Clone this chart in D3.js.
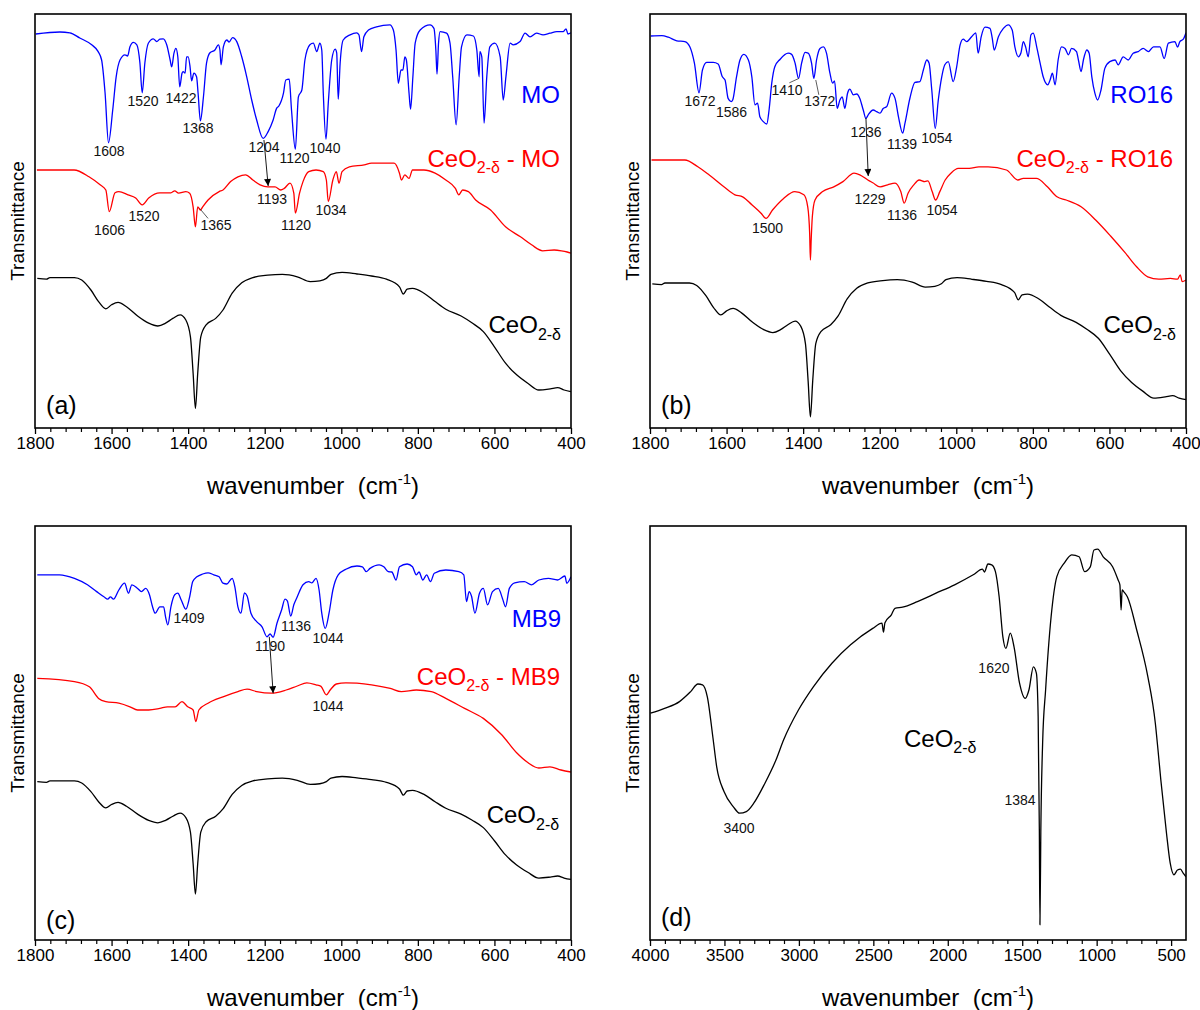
<!DOCTYPE html>
<html><head><meta charset="utf-8">
<script src="https://cdn.jsdelivr.net/npm/d3@7"></script>
<style>
body{margin:0;background:#fff}
svg{display:block}
text{font-family:"Liberation Sans",Arial,Helvetica,sans-serif}
</style>
</head><body>
<svg id="chart" width="1200" height="1010"></svg>
<script>
// ---------------- DATA (wavenumber cm-1, transmittance a.u.) ----------------
const moSpectrum = [[1798,98.5],[1735,99],[1709,98.8],[1683,97.5],[1652,95.8],[1635,94.1],[1626,92],[1617,83.8],[1608,71.3],[1597,79.5],[1588,87.8],[1578,92],[1565,93.3],[1558,93],[1552,95.3],[1543,96.4],[1534,95.8],[1526,91.3],[1520,83.8],[1513,91.3],[1504,96.2],[1491,97.3],[1482,96.6],[1474,97.2],[1465,97.3],[1456,95.8],[1447,92],[1443,90.3],[1437,93.7],[1432,94.9],[1427,92.8],[1422,85.3],[1416,88.7],[1413,89.1],[1408,88.7],[1404,92.8],[1400,92.8],[1395,90.3],[1391,86.8],[1385,88.7],[1378,87.8],[1374,83.7],[1368,76.8],[1360,82.8],[1352,91.2],[1343,93.8],[1330,94.5],[1321,95.8],[1317,94.5],[1314,90.8],[1308,95.3],[1299,97],[1293,96.5],[1284,97.6],[1273,96.6],[1260,92.8],[1247,87.8],[1234,82],[1221,77],[1204,72.4],[1191,74.1],[1178,77],[1169,79.9],[1163,80.5],[1151,83.7],[1145,87],[1136,87.2],[1130,79.5],[1120,69.7],[1112,82.8],[1103,84.5],[1095,92],[1082,95.8],[1073,96.2],[1064,94.1],[1056,96.2],[1051,94.5],[1047,83.7],[1040,72.2],[1034,81.2],[1025,92],[1016,94.7],[1012,93.8],[1008,82.2],[1003,91.2],[995,97],[977,98.3],[960,98.8],[954,98.3],[947,94.1],[941,97.8],[929,99.5],[908,100.3],[873,100.8],[864,99.5],[857,94.5],[851,86.2],[844,89.5],[839,89.5],[834,92.8],[830,92],[823,83.7],[819,79.7],[813,87.8],[807,96.2],[794,99.5],[768,100.8],[758,99.9],[753,94.5],[750,88.5],[746,96.2],[742,99.1],[725,98.7],[716,96.2],[709,87.8],[700,75.8],[692,87.8],[686,95.3],[672,98.3],[655,98],[646,94.5],[640,87.8],[638,94.1],[633,92.8],[627,76.2],[620,87.8],[612,95.3],[599,96.2],[585,92.8],[577,82],[570,87.8],[559,96.2],[551,95.8],[533,96.6],[520,98.7],[507,97.8],[490,98.7],[473,98.3],[455,98.7],[437,99.1],[420,99.1],[413,99.8],[408,98.5],[400,98.8]];

const moComplex = [[1795,64.5],[1698,64.5],[1659,62.8],[1630,60.8],[1615,59.5],[1606,54.1],[1591,58.8],[1581,59.1],[1557,58.3],[1537,57.5],[1520,55.8],[1503,57.5],[1474,58.8],[1445,58.8],[1435,59.3],[1425,58.7],[1406,59.1],[1396,58.7],[1387,55.3],[1381,50.3],[1375,55.3],[1368,54.5],[1362,55.3],[1348,57],[1319,59.1],[1309,59.5],[1289,61.6],[1270,62.8],[1250,63.3],[1231,62],[1212,60.8],[1192,60.3],[1173,60.3],[1158,59.5],[1149,59.9],[1134,61.2],[1124,58.7],[1120,53.7],[1109,58.7],[1100,61.6],[1085,64.1],[1066,64.5],[1047,64.1],[1039,62],[1034,56.6],[1022,62],[1013,64.1],[1006,61.2],[998,64.1],[979,65.3],[940,65.8],[921,66.2],[862,66.2],[848,63.7],[843,62],[834,63.3],[823,62.4],[814,64.5],[784,64.5],[755,63.7],[727,62],[702,59.9],[693,58.3],[683,59.5],[668,59.1],[649,57],[610,54.5],[571,50.3],[532,47.8],[503,45.8],[474,44.3],[444,44.5],[425,44.3],[410,44],[400,43.7]];

const ceo2Spectrum = [[1794,37.4],[1770,37.2],[1761,37.6],[1697,37.6],[1678,37],[1654,34.5],[1634,31.6],[1615,29.8],[1600,30.8],[1583,31.4],[1561,30.3],[1532,28],[1503,26.2],[1479,25.5],[1459,26.2],[1440,27.4],[1421,28.3],[1406,27],[1394,22.8],[1387,13.7],[1381,4.9],[1375,13.7],[1367,22.8],[1353,25.8],[1328,27.4],[1309,29.5],[1285,33.7],[1260,36.3],[1231,37.6],[1192,38.2],[1154,38.4],[1115,37.8],[1081,36.6],[1056,36.8],[1039,37.4],[1027,38.4],[998,38.9],[959,38.5],[921,38],[882,37.2],[848,35.3],[838,33.5],[828,34.7],[814,34.9],[784,33.7],[755,31.6],[727,29.7],[687,28],[659,26.3],[629,24.1],[600,20.3],[571,16.2],[542,13.3],[513,11.2],[484,9.5],[454,9.8],[435,10.1],[418,9.5],[400,9.1]];

const ro16Spectrum = [[1798,98],[1769,98.1],[1752,97.7],[1730,96.8],[1709,96.6],[1696,95.3],[1684,91.2],[1672,83.8],[1663,89.5],[1652,91.4],[1635,91.4],[1622,91],[1611,87.8],[1604,87],[1596,82.4],[1588,81.6],[1584,82],[1574,87.8],[1565,92],[1555,93.4],[1543,92],[1534,87.8],[1526,80.8],[1519,81.2],[1513,77.8],[1504,76.6],[1495,76],[1489,79.5],[1482,86.2],[1474,90.3],[1460,92.2],[1439,93.7],[1430,93.4],[1421,91.2],[1412,87.4],[1404,91.2],[1395,93.9],[1387,93.7],[1378,91.2],[1372,87.4],[1365,92],[1356,94.9],[1347,95.3],[1339,93.7],[1330,88.7],[1323,86.2],[1318,86.8],[1311,79.9],[1304,82],[1298,82.8],[1291,79.9],[1284,83.7],[1278,84.7],[1269,83.3],[1260,83.5],[1252,82.4],[1243,79.5],[1236,77.4],[1230,78.3],[1217,79.5],[1208,79.1],[1199,78.7],[1191,79.9],[1182,80.3],[1169,83.7],[1160,82.4],[1151,77.8],[1140,73.7],[1134,76.2],[1121,82.5],[1108,86.4],[1095,86.6],[1086,89.5],[1077,92],[1071,91.2],[1064,84.5],[1055,74.9],[1047,82],[1038,87.8],[1030,90.8],[1021,91.6],[1008,86.6],[999,90.3],[990,95.8],[982,97.2],[973,96.6],[960,97.8],[949,98.8],[943,93.7],[935,97.8],[925,100.2],[912,99.9],[906,97.4],[901,94.5],[890,97.8],[877,99.9],[864,100.8],[854,99.5],[847,95.3],[838,92.8],[831,93.8],[825,96.6],[819,95.3],[812,92.8],[805,98.3],[799,98.7],[790,95.3],[781,91.2],[773,87.8],[761,85.8],[755,87],[749,88.7],[742,85.8],[734,92],[725,95.3],[716,94.9],[707,93.3],[699,94.9],[686,94.1],[681,92],[674,89.1],[668,92],[659,94.5],[653,93.7],[646,87.8],[638,83.7],[631,82],[622,84.5],[612,89.9],[599,91.6],[585,92],[577,90.8],[564,92.8],[551,92],[538,93.7],[525,94.1],[512,94.9],[498,94.1],[485,95.3],[468,95.3],[457,92.4],[446,96.2],[429,96.6],[422,95.2],[416,96.6],[407,97.2],[400,98.8]];

const ro16Complex = [[1796,67],[1709,67],[1675,65.3],[1646,63.3],[1607,60.3],[1578,58.3],[1558,57.8],[1534,55.8],[1510,53.7],[1497,52.4],[1480,54.5],[1451,57.4],[1422,59.1],[1398,58.3],[1388,55.3],[1383,48.7],[1381,42],[1379,47],[1376,52.8],[1369,57],[1349,59.1],[1320,60.3],[1296,61.6],[1267,63.7],[1252,63.3],[1231,62],[1218,61.3],[1199,60.3],[1179,60.8],[1160,61.2],[1145,59.1],[1136,56.2],[1126,58.7],[1111,60.8],[1097,62],[1082,61.6],[1074,61.8],[1063,59.1],[1054,57],[1043,59.1],[1029,62],[1014,63.7],[995,64.9],[966,64.9],[941,65.3],[917,65.3],[869,64.5],[839,62],[825,62.4],[791,62.4],[762,60.3],[737,57.8],[713,57],[674,55.3],[636,52],[597,48],[558,43.7],[529,40.3],[500,37.8],[471,37.2],[441,37.4],[422,37.2],[415,38.3],[410,36.6],[400,37]];

const mb9Spectrum = [[1794,91.3],[1736,91.3],[1697,90.4],[1663,88.8],[1639,87.1],[1620,85.8],[1610,85.2],[1603,85.8],[1595,85.2],[1581,87.5],[1566,89.2],[1556,86.7],[1547,88.8],[1532,87.9],[1522,87.1],[1511,87.9],[1501,86.3],[1493,83.3],[1486,81.7],[1474,83.3],[1464,83.3],[1459,80.8],[1453,78.8],[1445,83.3],[1435,86.3],[1427,86.7],[1418,85],[1406,82.7],[1396,85.8],[1388,89.6],[1377,90.8],[1362,91.5],[1348,91.8],[1333,91.3],[1319,90.8],[1309,89.2],[1299,89],[1285,90.4],[1278,88.3],[1270,83.3],[1262,81.7],[1253,86.8],[1246,86],[1236,81.7],[1221,79.6],[1207,78.3],[1194,75.8],[1186,76.5],[1178,75.7],[1168,79.2],[1156,82.5],[1147,85.2],[1141,84.8],[1132,81],[1124,83.8],[1115,85.8],[1100,88.8],[1085,89.6],[1077,89.3],[1066,90.4],[1058,87.5],[1051,81.7],[1042,77.9],[1032,81.7],[1022,87.5],[1008,91.3],[988,92.7],[959,93.5],[945,93.3],[935,92.1],[925,92.9],[901,93.8],[889,93.3],[877,92.1],[868,92],[857,90],[848,93.3],[828,94],[814,93.3],[804,91.3],[797,92],[787,90],[777,91.3],[767,89.6],[757,91.7],[727,92.5],[693,92.1],[680,91.3],[673,84.6],[666,87.1],[660,86],[651,81.7],[639,86.7],[629,87.9],[618,83.8],[605,87.1],[590,87.9],[579,85.4],[571,83.3],[561,87.9],[547,89.3],[522,89.6],[503,88.8],[484,90],[459,90.4],[435,90],[416,91],[411,89.2],[400,90.8]];

const mb9Complex = [[1794,65.4],[1697,64.6],[1658,63.3],[1634,60.4],[1615,59.6],[1581,59.2],[1552,58.3],[1532,57.5],[1503,57.5],[1474,57.9],[1454,58.3],[1434,58.3],[1416,59.6],[1401,58.3],[1387,57.5],[1380,54.6],[1372,57.5],[1348,59.2],[1309,60.8],[1270,62.1],[1246,62.7],[1221,62.1],[1183,61.7],[1144,62.5],[1115,63.5],[1090,64.3],[1066,63.8],[1053,63.4],[1039,61.3],[1029,62.5],[1013,64],[988,64.3],[959,64.2],[921,63.8],[872,62.9],[843,62.1],[804,62.5],[765,62.1],[727,60.4],[678,57.9],[629,55.4],[581,51.3],[542,46.8],[512,44.3],[484,43],[455,43.3],[426,42.5],[400,42]];

const ceo2FullSpectrum = [[3997,56.7],[3902,57.9],[3802,59.6],[3727,62.1],[3678,64],[3647,63.8],[3615,60.8],[3577,50.5],[3552,43.3],[3503,37.1],[3440,33.3],[3398,31.7],[3353,32.1],[3303,34.2],[3228,39.2],[3154,45],[3103,50],[3003,57.5],[2903,63.3],[2778,69.2],[2653,73.8],[2504,77.9],[2442,79.2],[2432,77],[2422,79.3],[2379,81.3],[2355,82.9],[2304,83.2],[2204,84.6],[2079,86.7],[1954,88.8],[1829,91.3],[1767,92.7],[1754,92],[1730,94],[1705,93.8],[1680,92.1],[1655,85.8],[1630,75.8],[1610,72.9],[1580,76.7],[1555,73.3],[1518,64.2],[1480,60.4],[1455,62.5],[1425,68.3],[1405,66.7],[1393,55.8],[1385,27.5],[1381,3.8],[1375,27.5],[1363,49.2],[1343,62.5],[1306,80.8],[1268,90.8],[1218,94.2],[1168,96.3],[1118,95.8],[1081,92.1],[1043,93.3],[1018,97.5],[993,97.7],[956,95.8],[893,93.3],[856,90],[844,88.8],[836,82.5],[829,87.5],[819,87.1],[794,85.8],[731,77.5],[656,65.8],[606,54.2],[588,47.5],[569,40],[531,26.7],[506,19.2],[481,16.3],[457,17.5],[437,17.7],[419,16.7],[400,15.8]];

// tick labels
const ticksMid = [1800,1600,1400,1200,1000,800,600,400];
const ticksFull = [4000,3500,3000,2500,2000,1500,1000,500];

// peak labels [text, wavenumber, transmittance]
const peaksA = [["1608",1606.7,69.3],["1520",1517.9,81.8],["1422",1418.6,82.5],["1368",1374.2,75],["1204",1201.9,70.3],["1120",1122.2,67.5],["1040",1042.5,70],["1606",1605.4,49.5],["1520",1515.3,53],["1365",1327.2,50.8],["1193",1181,57.3],["1120",1118.3,50.8],["1034",1026.8,54.5]];
const peaksB = [["1672",1669.4,81.8],["1586",1587.1,79],["1410",1442.2,84.5],["1372",1356.7,81.8],["1236",1235.8,74],["1139",1141.8,71],["1054",1051.1,72.5],["1500",1493,50],["1229",1225.4,57.3],["1136",1141.8,53.3],["1054",1037.3,54.5]];
const peaksC = [["1409",1397.8,80.5],["1136",1118.3,78.4],["1044",1034.7,75.5],["1190",1186.2,73.5],["1044",1034.7,58.5]];
const peaksD = [["3400",3402,28],["1620",1690,68],["1384",1515,35]];

// ---------------- LAYOUT ----------------
const BLUE="#0000ff", RED="#ff0000", BLACK="#000000";
const svg = d3.select("#chart");
const defs = svg.append("defs");
defs.append("marker").attr("id","arrowhead").attr("viewBox","0 0 10 10")
  .attr("refX",10).attr("refY",5).attr("markerWidth",8).attr("markerHeight",7)
  .attr("markerUnits","userSpaceOnUse").attr("orient","auto")
  .append("path").attr("d","M0,0 L10,5 L0,10 Z").attr("fill","#000");

const panels = [
  {key:"a", left:35, right:571, top:14, bottom:428, domain:[1800,400], majors:ticksMid, minorStep:40,
   series:[{data:moSpectrum,color:BLUE},{data:moComplex,color:RED},{data:ceo2Spectrum,color:BLACK,gain:1,offset:0}],
   peaks:peaksA, leaders:[[1370,54.9,1348,52.4]], arrows:[[1202,72,1191,60.5]],
   names:[{t:"MO",color:BLUE,wn:428.7,v:83.3,anchor:"end"},{ceo:true,suffix:"MO",color:RED,wn:428.7,v:67.5,anchor:"end"},{ceo:true,color:BLACK,wn:426,v:25.8,anchor:"end"}],
   letter:["(a)",1771,5.75]},
  {key:"b", left:650, right:1186, top:14, bottom:428, domain:[1800,400], majors:ticksMid, minorStep:40,
   series:[{data:ro16Spectrum,color:BLUE},{data:ro16Complex,color:RED},{data:ceo2Spectrum,color:BLACK,gain:1.024,offset:-2.25}],
   peaks:peaksB, leaders:[[1436,86.3,1411,87.4],[1367,87,1359,83.3]], arrows:[[1236,77.5,1230,63]],
   names:[{t:"RO16",color:BLUE,wn:433.9,v:83.3,anchor:"end"},{ceo:true,suffix:"RO16",color:RED,wn:433.9,v:67.5,anchor:"end"},{ceo:true,color:BLACK,wn:426,v:25.8,anchor:"end"}],
   letter:["(b)",1771,5.75]},
  {key:"c", left:35, right:571, top:526, bottom:940, domain:[1800,400], majors:ticksMid, minorStep:40,
   series:[{data:mb9Spectrum,color:BLUE},{data:mb9Complex,color:RED},{data:ceo2Spectrum,color:BLACK,gain:0.864,offset:7.27}],
   peaks:peaksC, leaders:[], arrows:[[1188,75.8,1178,61.7]],
   names:[{t:"MB9",color:BLUE,wn:426,v:80.3,anchor:"end"},{ceo:true,suffix:"MB9",color:RED,wn:428.7,v:66,anchor:"end"},{ceo:true,color:BLACK,wn:431,v:31.3,anchor:"end"}],
   letter:["(c)",1771,5]},
  {key:"d", left:650, right:1186, top:526, bottom:940, domain:[4000,400], majors:ticksFull, minorStep:100,
   series:[{data:ceo2FullSpectrum,color:BLACK}],
   peaks:peaksD, leaders:[], arrows:[],
   names:[{ceo:true,color:BLACK,wn:2294,v:50.5,anchor:"start"}],
   letter:["(d)",3926,5.75]}
];

function ceoLabel(g, x, y, color, suffix, anchor){
  const size=24;
  const t=g.append("text").attr("x",x).attr("y",y).attr("fill",color)
    .attr("font-size",size).attr("text-anchor",anchor);
  t.append("tspan").text("CeO");
  t.append("tspan").attr("font-size",16).attr("dy",6.5).text("2-δ");
  if(suffix) t.append("tspan").attr("dy",-6.5).text("\u00A0-\u00A0"+suffix);
}

panels.forEach(p=>{
  const g = svg.append("g");
  const x = d3.scaleLinear().domain(p.domain).range([p.left,p.right]);
  const y = d3.scaleLinear().domain([0,103.5]).range([p.bottom,p.top]);
  const clipId = "clip-"+p.key;
  defs.append("clipPath").attr("id",clipId).append("rect")
    .attr("x",p.left).attr("y",p.top).attr("width",p.right-p.left).attr("height",p.bottom-p.top);
  const line = d3.line().x(d=>x(d[0])).y(d=>y(d[1])).curve(d3.curveMonotoneX);

  p.series.forEach(s=>{
    const gain = s.gain===undefined?1:s.gain, off = s.offset||0;
    const data = s.data.map(d=>[d[0], d[1]*gain+off]);
    g.append("path").datum(data).attr("d",line).attr("fill","none")
      .attr("stroke",s.color).attr("stroke-width",1.3).attr("stroke-linejoin","round")
      .attr("clip-path",`url(#${clipId})`);
  });

  // minor ticks
  const lo = Math.min(...p.domain), hi = Math.max(...p.domain);
  const minors = d3.range(lo, hi+1, p.minorStep).filter(v=>!p.majors.includes(v) && v>lo && v<hi);
  const minAx = g.append("g").attr("transform",`translate(0,${p.bottom})`)
    .call(d3.axisBottom(x).tickValues(minors).tickSize(4).tickFormat(""));
  minAx.select(".domain").remove();
  minAx.selectAll("line").attr("stroke","#000").attr("stroke-width",1.2);

  const majAx = g.append("g").attr("transform",`translate(0,${p.bottom})`)
    .call(d3.axisBottom(x).tickValues(p.majors).tickSize(6).tickPadding(3).tickFormat(d3.format("d")));
  majAx.select(".domain").remove();
  majAx.selectAll("line").attr("stroke","#000").attr("stroke-width",1.3);
  majAx.selectAll("text").attr("font-size",17).attr("fill","#000")
    .attr("font-family",'"Liberation Sans",Arial,sans-serif');

  // frame
  g.append("rect").attr("x",p.left).attr("y",p.top).attr("width",p.right-p.left).attr("height",p.bottom-p.top)
    .attr("fill","none").attr("stroke","#000").attr("stroke-width",1.6);

  // axis titles
  const xt = g.append("text").attr("x",(p.left+p.right)/2+10).attr("y",p.bottom+66)
    .attr("text-anchor","middle").attr("font-size",24).attr("fill","#000");
  xt.append("tspan").text("wavenumber\u00A0\u00A0(cm");
  xt.append("tspan").attr("font-size",15).attr("dy",-10).text("-1");
  xt.append("tspan").attr("dy",10).text(")");

  g.append("text").attr("transform",`translate(${p.left-11},${(p.top+p.bottom)/2}) rotate(-90)`)
    .attr("text-anchor","middle").attr("font-size",19).attr("fill","#000").text("Transmittance");

  // leader lines
  p.leaders.forEach(l=>{
    g.append("line").attr("x1",x(l[0])).attr("y1",y(l[1])).attr("x2",x(l[2])).attr("y2",y(l[3]))
      .attr("stroke","#333").attr("stroke-width",0.8);
  });
  // arrows
  p.arrows.forEach(a=>{
    g.append("line").attr("x1",x(a[0])).attr("y1",y(a[1])).attr("x2",x(a[2])).attr("y2",y(a[3]))
      .attr("stroke","#000").attr("stroke-width",0.9).attr("marker-end","url(#arrowhead)");
  });
  // peak labels
  p.peaks.forEach(pk=>{
    g.append("text").attr("x",x(pk[1])).attr("y",y(pk[2])+5).attr("text-anchor","middle")
      .attr("font-size",14).attr("fill","#111").text(pk[0]);
  });
  // series names
  p.names.forEach(n=>{
    const px = x(n.wn), py = y(n.v)+8.5;
    if(n.ceo) ceoLabel(g, px, py, n.color, n.suffix, n.anchor);
    else g.append("text").attr("x",px).attr("y",py).attr("text-anchor",n.anchor)
      .attr("font-size",24).attr("fill",n.color).text(n.t);
  });
  // panel letter
  g.append("text").attr("x",x(p.letter[1])).attr("y",y(p.letter[2])+9)
    .attr("font-size",25).attr("fill","#000").text(p.letter[0]);
});
</script>
</body></html>
